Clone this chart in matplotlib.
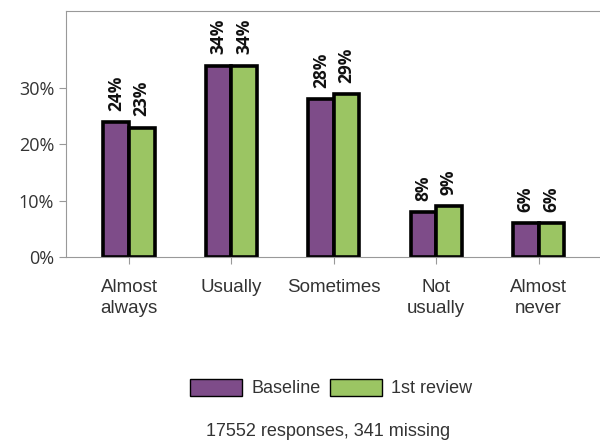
import numpy as np
import matplotlib.pyplot as plt
from matplotlib.patches import Patch

categories = ['Almost\nalways', 'Usually', 'Sometimes', 'Not\nusually', 'Almost\nnever']
baseline = [24, 34, 28, 8, 6]
review = [23, 34, 29, 9, 6]
series_names = ['Baseline', '1st review']
yticks = [0, 10, 20, 30]
footer = '17552 responses, 341 missing'

purple = '#7e4c89'
green = '#9bc563'
sans = ['Liberation Sans', 'DejaVu Sans']
plt.rcParams['font.family'] = ['Open Sans', 'DejaVu Sans']

fig = plt.figure(figsize=(6, 4.41), dpi=100)
ax = fig.add_axes([0.11, 0.417, 0.89, 0.558])

x = np.arange(len(categories))
w = 0.25
b1 = ax.bar(x - w / 2, baseline, w, color=purple, edgecolor='black', linewidth=2.6)
b2 = ax.bar(x + w / 2, review, w, color=green, edgecolor='black', linewidth=2.6)

for bars, vals in [(b1, baseline), (b2, review)]:
    for r, v in zip(bars, vals):
        ax.text(r.get_x() + r.get_width() / 2, v + 2.0, f'{v}%', rotation=90,
                ha='center', va='bottom', fontsize=12.5, fontweight='bold', color='#111111')

ax.set_ylim(0, 43.7)
ax.set_xlim(-0.615, 4.6)
ax.set_yticks(yticks)
ax.set_yticklabels([f'{t}%' for t in yticks], fontsize=13)
ax.set_xticks(x)
ax.set_xticklabels(categories, family=sans, fontsize=13.5, linespacing=1.3)
ax.tick_params(axis='both', colors='#999999', labelcolor='#333333', length=5)
ax.tick_params(axis='x', pad=11)
for s in ['left', 'top', 'bottom']:
    ax.spines[s].set_color('#999999')
ax.spines['right'].set_visible(False)

handles = [Patch(facecolor=purple, edgecolor='black', linewidth=1, label=series_names[0]),
           Patch(facecolor=green, edgecolor='black', linewidth=1, label=series_names[1])]
fig.legend(handles=handles, loc='center', bbox_to_anchor=(0.552, 0.12), ncol=2,
           frameon=False, prop={'family': sans, 'size': 13}, handlelength=2.9,
           handleheight=1.1, handletextpad=0.5, columnspacing=0.5, labelcolor='#333333')
fig.text(0.546, 0.022, footer, ha='center', va='center', fontsize=13,
         family=sans, color='#333333')

fig.savefig('out.png', dpi=100)
